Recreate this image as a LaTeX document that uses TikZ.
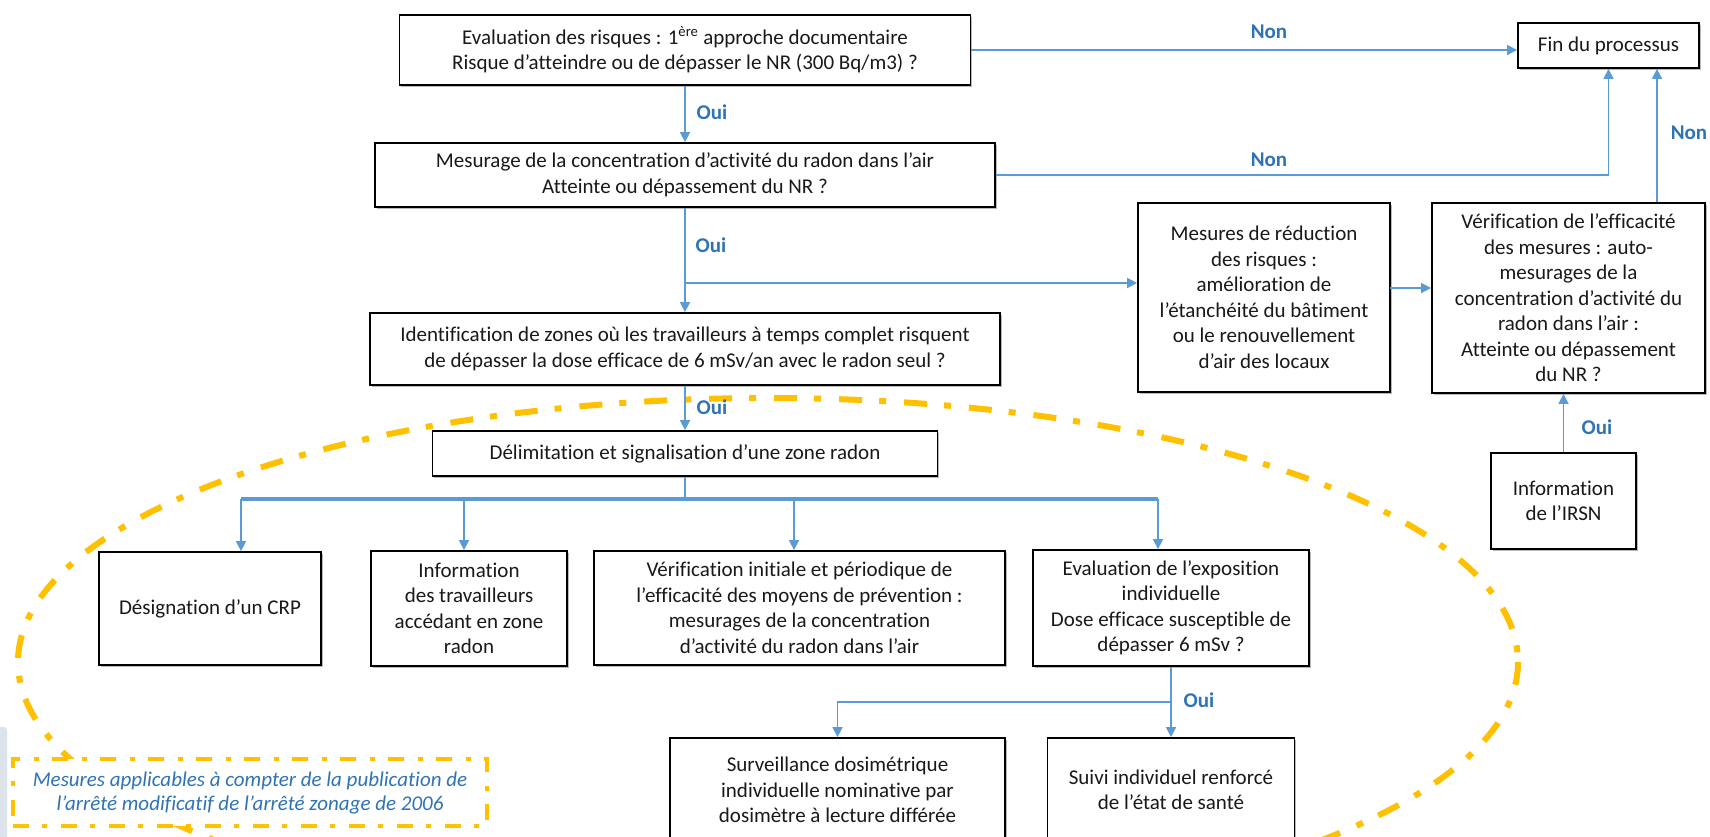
\documentclass[tikz,border=0pt]{standalone}
\usepackage{fontspec}
\setmainfont{Carlito}[Ligatures={TeX,NoCommon}]
\usetikzlibrary{arrows.meta,shadows}
\definecolor{lineblue}{HTML}{5B9BD5}
\definecolor{labblue}{HTML}{2E74B5}
\definecolor{zoneorange}{HTML}{FFC000}
\definecolor{artifact}{HTML}{DCE3EA}
\begin{document}
\begin{tikzpicture}[x=1pt,y=-1pt,
  box/.style={draw=black, line width=1.8pt, fill=white, align=center, inner sep=0pt,
    text=black!90, font=\fontsize{21}{25.5}\selectfont,
    drop shadow={shadow xshift=1.6pt, shadow yshift=-1.6pt, fill=black!50, opacity=0.55}},
  lab/.style={text=labblue, font=\bfseries\fontsize{21}{25}\selectfont, inner sep=0pt},
  conn/.style={draw=lineblue, line width=1.6pt},
  arr/.style={conn, -{Triangle[length=10pt,width=10pt]}},
  busline/.style={draw=lineblue, line width=4pt},
  zoneline/.style={draw=zoneorange, line width=6pt, dash pattern=on 23pt off 17pt on 7pt off 18pt},
  legendbox/.style={draw=zoneorange, line width=4pt, fill=white, align=center, inner sep=0pt,
    dash pattern=on 16pt off 13pt on 5pt off 14pt,
    text=labblue, font=\itshape\fontsize{21}{24}\selectfont}
]
\useasboundingbox (0,0) rectangle (1710,836);
\clip (0,0) rectangle (1710,836);
\fill[white] (0,0) rectangle (1710,836);
\fill[artifact, rounded corners=3pt] (-4,727) rectangle (7,840);

% zone ellipse
\draw[zoneline] (768,662) ellipse [x radius=750, y radius=264];

% main column
\node[box, minimum width=571pt, minimum height=70pt] (q1) at (685,50)
  {Evaluation des risques : 1\textsuperscript{ère} approche documentaire\\Risque d’atteindre ou de dépasser le NR (300 Bq/m3) ?};
\node[box, minimum width=181pt, minimum height=45pt] (fin) at (1608.5,45.5) {Fin du processus};
\node[box, minimum width=620pt, minimum height=64pt] (q2) at (685,175)
  {Mesurage de la concentration d’activité du radon dans l’air\\Atteinte ou dépassement du NR ?};
\node[box, minimum width=630pt, minimum height=72pt] (q3) at (685,349)
  {Identification de zones où les travailleurs à temps complet risquent\\de dépasser la dose efficace de 6 mSv/an avec le radon seul ?};
\node[box, minimum width=505pt, minimum height=45pt] (q4) at (685,453.5)
  {Délimitation et signalisation d’une zone radon};

% right column
\node[box, minimum width=252pt, minimum height=189pt] (mes) at (1264,297.5)
  {Mesures de réduction\\des risques :\\amélioration de\\l’étanchéité du bâtiment\\ou le renouvellement\\d'air des locaux};
\node[box, minimum width=273pt, minimum height=190pt] (ver) at (1568.5,298)
  {Vérification de l’efficacité\\des mesures : auto-\\mesurages de la\\concentration d’activité du\\radon dans l’air :\\Atteinte ou dépassement\\du NR ?};
\node[box, minimum width=145pt, minimum height=96pt] (irsn) at (1563.5,501)
  {Information\\de l’IRSN};

% bottom row
\node[box, minimum width=222pt, minimum height=113pt] (desig) at (210,608.5) {Désignation d’un CRP};
\node[box, minimum width=196pt, minimum height=115pt] (info) at (469,608.5)
  {Information\\des travailleurs\\accédant en zone\\radon};
\node[box, minimum width=411pt, minimum height=114pt] (vinit) at (799.5,608)
  {Vérification initiale et périodique de\\l’efficacité des moyens de prévention :\\mesurages de la concentration\\d’activité du radon dans l’air};
\node[box, minimum width=276pt, minimum height=116pt] (evalx) at (1171,608)
  {Evaluation de l'exposition\\individuelle\\Dose efficace susceptible de\\dépasser 6 mSv ?};
\node[box, minimum width=335pt, minimum height=104pt] (surv) at (837.5,790)
  {Surveillance dosimétrique\\individuelle nominative par\\dosimètre à lecture différée};
\node[box, minimum width=247pt, minimum height=104pt] (suivi) at (1171,790)
  {Suivi individuel renforcé\\de l’état de santé};

% legend
\node[legendbox, minimum width=474pt, minimum height=67pt] (leg) at (250,792.5)
  {Mesures applicables à compter de la publication de\\l’arrêté modificatif de l’arrêté zonage de 2006};

% connectors
\draw[arr] (q1.east) -- (q1.east -| fin.west);
\node[lab] at (1269,32) {Non};
\draw[arr] (q1.south) -- (q2.north);
\node[lab] at (712,112) {Oui};
\draw[arr] (q2.east) -- (q2.east -| fin.south) -- (fin.south);
\node[lab] at (1269,160) {Non};
\draw[arr] (q2.south) -- (q3.north);
\node[lab] at (711,245) {Oui};
\coordinate (br) at (685,283);
\draw[arr] (br) -- (br -| mes.west);
\coordinate (m2v) at (1390,288);
\draw[arr] (m2v) -- (m2v -| ver.west);
\draw[arr] (irsn.north) -- (irsn.north |- ver.south);
\node[lab] at (1597,427) {Oui};
\coordinate (fx) at (1657,0);
\draw[arr] (fx |- ver.north) -- (fx |- fin.south);
\node[lab] at (1689,133) {Non};
\draw[arr] (q3.south) -- (q4.north);
\node[lab] at (712,407) {Oui};

\coordinate (busL) at (241,499);
\coordinate (b2) at (464,499);
\coordinate (b3) at (794,499);
\coordinate (busR) at (1158,499);
\draw[conn] (q4.south) -- (q4.south |- busL);
\draw[busline] (busL) -- (busR);
\draw[arr] (busL) -- (busL |- desig.north);
\draw[arr] (b2) -- (b2 |- info.north);
\draw[arr] (b3) -- (b3 |- vinit.north);
\draw[arr] (busR) -- (busR |- evalx.north);

\coordinate (eb) at (1171,702);
\draw[arr] (evalx.south) -- (suivi.north);
\draw[arr] (eb) -- (eb -| surv.north) -- (surv.north);
\node[lab] at (1199,700) {Oui};
\end{tikzpicture}
\end{document}
